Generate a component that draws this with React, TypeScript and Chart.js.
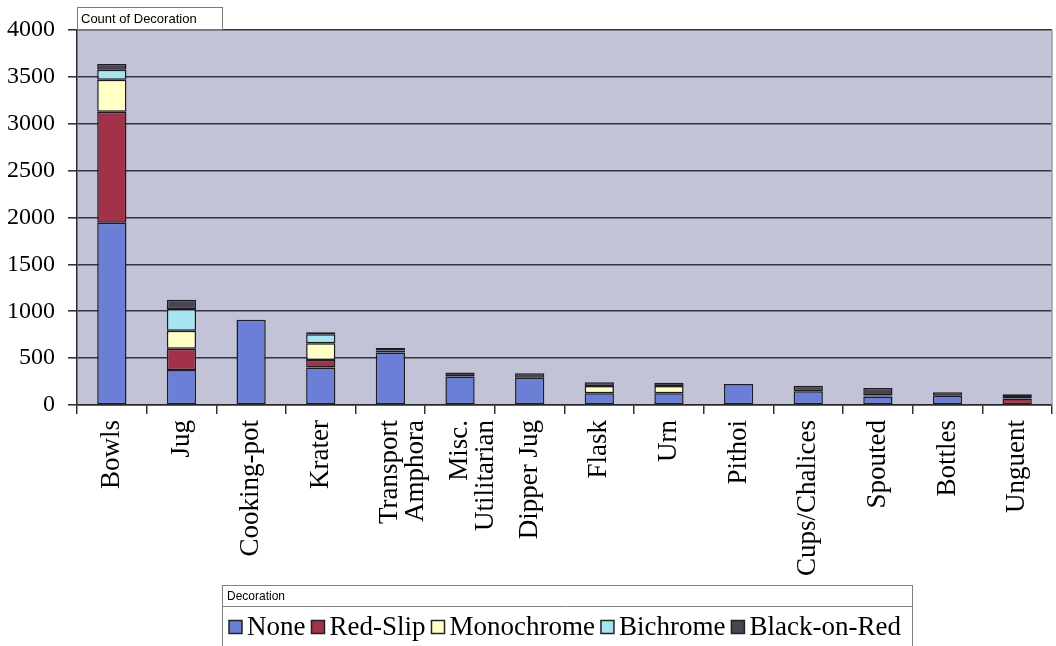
import React, { useEffect, useRef } from "react";
import { Chart, registerables } from "chart.js";

Chart.register(...registerables);

const categories: (string | string[])[] = [
  "Bowls",
  "Jug",
  "Cooking-pot",
  "Krater",
  ["Transport", "Amphora"],
  ["Misc.", "Utilitarian"],
  "Dipper Jug",
  "Flask",
  "Urn",
  "Pithoi",
  "Cups/Chalices",
  "Spouted",
  "Bottles",
  "Unguent",
];

const seriesNames = ["None", "Red-Slip", "Monochrome", "Bichrome", "Black-on-Red"];
const seriesColors = ["#6b7fd6", "#a23249", "#ffffc6", "#a6e4f2", "#4b4552"];

const noneValues = [1945, 374, 909, 399, 560, 303, 292, 125, 125, 225, 148, 92, 99, null];
const redSlipValues = [1183, 225, null, 82, null, null, null, null, null, null, null, null, null, 70];
const monochromeValues = [342, 192, null, 179, 22, null, null, 78, 78, null, null, 10, null, 15];
const bichromeValues = [107, 232, null, 96, null, null, null, null, null, null, null, null, null, null];
const blackOnRedValues = [61, 100, null, 21, 25, 43, 47, 40, 35, null, 58, 80, 37, 30];

const seriesValues = [noneValues, redSlipValues, monochromeValues, bichromeValues, blackOnRedValues];

const fieldTitle = "Count of Decoration";
const legendTitle = "Decoration";

const yMin = 0;
const yMax = 4000;
const yStep = 500;

const W = 1056;
const H = 646;
const PLOT_LEFT = 77;
const PLOT_TOP = 30;
const PLOT_RIGHT = 1052;
const PLOT_BOTTOM = 405;

const SERIF = "Liberation Serif";
const SANS = "Liberation Sans";

const decorPlugin = {
  id: "decor",
  beforeDraw(chart: any) {
    const { ctx, chartArea } = chart;
    if (!chartArea) return;
    ctx.save();
    ctx.fillStyle = "#c3c3d7";
    ctx.fillRect(chartArea.left, chartArea.top, chartArea.right - chartArea.left, chartArea.bottom - chartArea.top);
    ctx.restore();
  },
  afterDraw(chart: any) {
    const { ctx, chartArea } = chart;
    if (!chartArea) return;
    ctx.save();
    // right border of the plot
    ctx.strokeStyle = "#9a9aaa";
    ctx.lineWidth = 1.5;
    ctx.beginPath();
    ctx.moveTo(chartArea.right, chartArea.top);
    ctx.lineTo(chartArea.right, chartArea.bottom);
    ctx.stroke();

    // field button "Count of Decoration"
    ctx.fillStyle = "#fff";
    ctx.fillRect(77.5, 7.5, 145, 22);
    ctx.strokeStyle = "#7a7a7a";
    ctx.lineWidth = 1;
    ctx.strokeRect(77.5, 7.5, 145, 22);
    ctx.fillStyle = "#000";
    ctx.font = `13px "${SANS}"`;
    ctx.textBaseline = "middle";
    ctx.textAlign = "left";
    ctx.fillText(fieldTitle, 81, 19);

    // legend box
    const lx = 222.5;
    const ly = 585.5;
    const lw = 690;
    const lh = 64;
    ctx.fillStyle = "#fff";
    ctx.fillRect(lx, ly, lw, lh);
    ctx.strokeStyle = "#808080";
    ctx.strokeRect(lx, ly, lw, lh);
    ctx.beginPath();
    ctx.moveTo(lx, 606.5);
    ctx.lineTo(lx + lw, 606.5);
    ctx.stroke();
    ctx.fillStyle = "#000";
    ctx.font = `12px "${SANS}"`;
    ctx.fillText(legendTitle, 227, 596.5);

    let x = 229;
    const cy = 627;
    ctx.font = `27px "${SERIF}"`;
    chart.data.datasets.forEach((ds: any) => {
      ctx.fillStyle = ds.backgroundColor;
      ctx.fillRect(x, cy - 6.5, 13, 13);
      ctx.strokeStyle = "#222";
      ctx.lineWidth = 1.5;
      ctx.strokeRect(x, cy - 6.5, 13, 13);
      ctx.fillStyle = "#000";
      ctx.fillText(ds.label, x + 18, cy + 1);
      x += 18 + ctx.measureText(ds.label).width + 6;
    });
    ctx.restore();
  },
};

export default function App() {
  const canvasRef = useRef<HTMLCanvasElement | null>(null);

  useEffect(() => {
    document.body.style.margin = "0";
    const canvas = canvasRef.current;
    if (!canvas) return;
    const chart = new Chart(canvas, {
      type: "bar",
      data: {
        labels: categories,
        datasets: seriesNames.map((name, i) => ({
          label: name,
          data: seriesValues[i],
          backgroundColor: seriesColors[i],
          borderColor: "#1c1c22",
          borderWidth: 1.5,
          borderSkipped: false,
          barPercentage: 0.42,
          categoryPercentage: 1.0,
        })),
      },
      options: {
        responsive: false,
        animation: false,
        events: [],
        layout: {
          padding: { top: PLOT_TOP, right: W - PLOT_RIGHT, left: 0, bottom: 0 },
        },
        plugins: {
          legend: { display: false },
          tooltip: { enabled: false },
          title: { display: false },
        },
        scales: {
          x: {
            stacked: true,
            grid: {
              drawOnChartArea: false,
              drawTicks: true,
              tickLength: 9,
              color: "#333",
              lineWidth: 1.5,
            },
            border: { color: "#2a2a2a", width: 1.5 },
            ticks: {
              autoSkip: false,
              minRotation: 90,
              maxRotation: 90,
              padding: 6,
              color: "#000",
              font: { family: SERIF, size: 27, lineHeight: 0.95 },
            },
            afterFit: (s: any) => {
              s.height = H - PLOT_BOTTOM;
            },
          },
          y: {
            stacked: true,
            min: yMin,
            max: yMax,
            grid: {
              color: "#333340",
              lineWidth: 1.6,
              tickLength: 9,
            },
            border: { color: "#2a2a2a", width: 1.5 },
            ticks: {
              stepSize: yStep,
              padding: 13,
              color: "#000",
              font: { family: SERIF, size: 24 },
              callback: (v: any) => String(v),
            },
            afterFit: (s: any) => {
              s.width = PLOT_LEFT;
            },
          },
        },
      },
      plugins: [decorPlugin],
    });
    return () => chart.destroy();
  }, []);

  return (
    <div style={{ position: "absolute", left: 0, top: 0, width: W, height: H, background: "#fff", overflow: "hidden" }}>
      <canvas ref={canvasRef} width={W} height={H} style={{ position: "absolute", left: 0, top: 0 }} />
    </div>
  );
}
